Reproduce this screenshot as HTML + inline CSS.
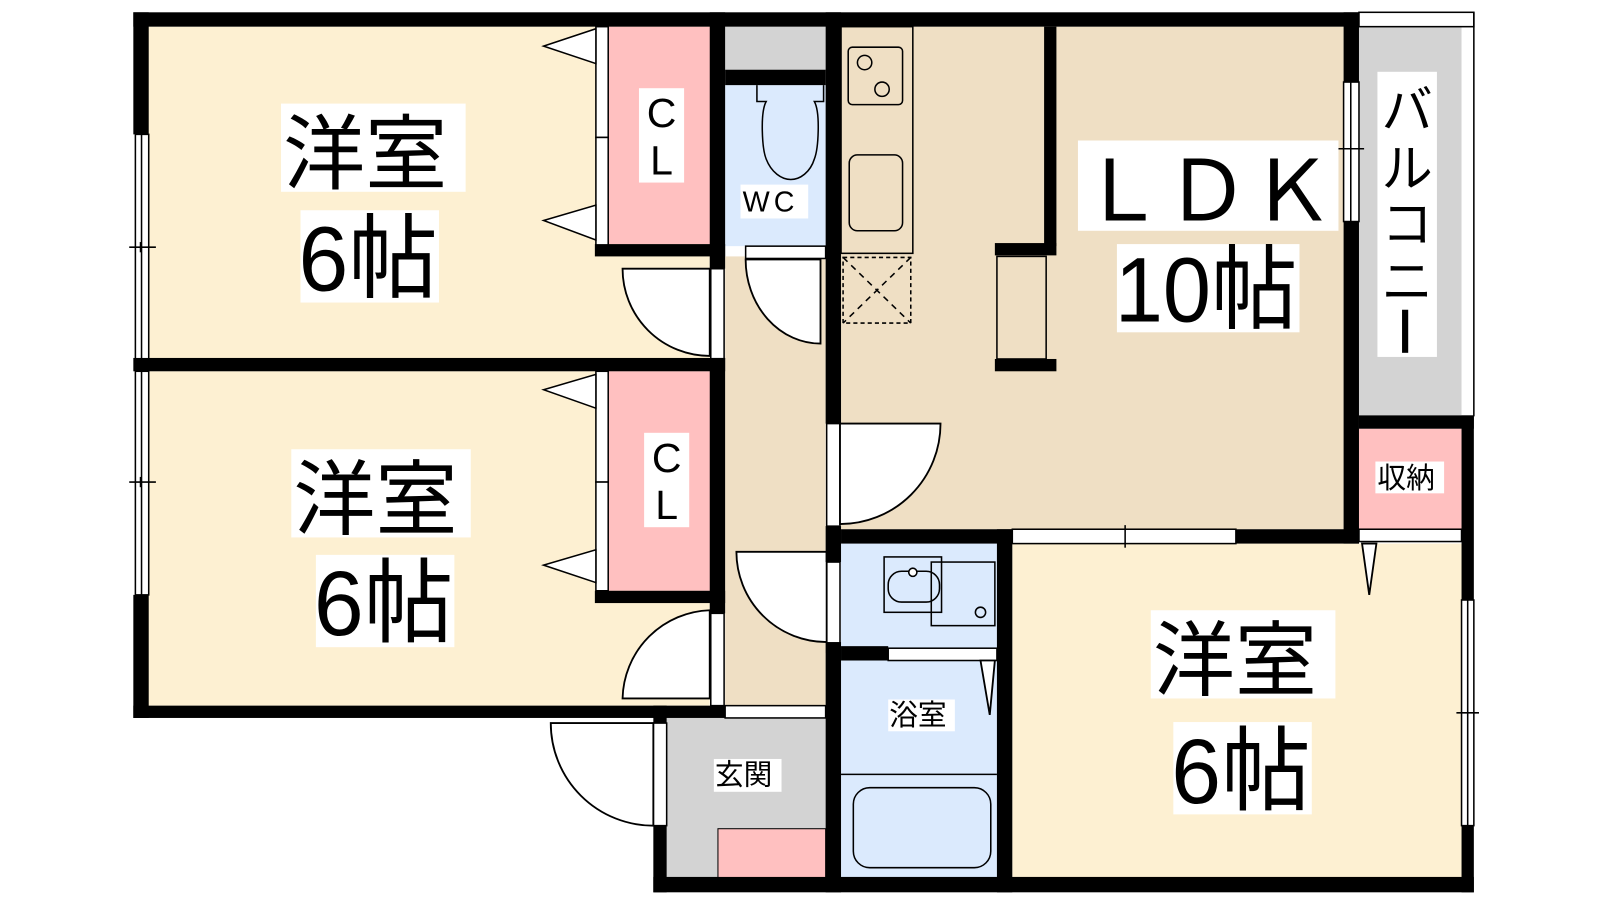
<!DOCTYPE html>
<html><head><meta charset="utf-8"><style>
html,body{margin:0;padding:0;background:#fff;}
svg{display:block}
text{font-family:"Liberation Sans","Noto Sans CJK JP",sans-serif;fill:#000}
</style></head><body>
<svg width="1600" height="900" viewBox="0 0 1560 877.5" preserveAspectRatio="none" xmlns="http://www.w3.org/2000/svg">
<!-- fills -->
<rect x="144" y="26" width="548" height="324" fill="#fdf0d2"/>
<rect x="144" y="362" width="548" height="326" fill="#fdf0d2"/>
<rect x="593" y="26" width="100" height="212" fill="#ffc0c0"/>
<rect x="593" y="362" width="100" height="214" fill="#ffc0c0"/>
<rect x="707" y="26" width="98" height="43" fill="#d3d3d3"/>
<rect x="707" y="83" width="98" height="157" fill="#dbeafd"/>
<rect x="707" y="250" width="98" height="438" fill="#efdfc4"/>
<rect x="820" y="26" width="490" height="490" fill="#efdfc4"/>
<rect x="1325" y="26" width="100" height="380" fill="#d3d3d3"/>
<rect x="1325" y="418" width="100" height="98" fill="#ffc0c0"/>
<rect x="987" y="530" width="438" height="326" fill="#fdf0d2"/>
<rect x="820" y="530" width="152" height="330" fill="#dbeafd"/>
<rect x="650" y="700" width="155" height="156" fill="#d3d3d3"/>
<rect x="700" y="808" width="105" height="48" fill="#ffc0c0" stroke="#000" stroke-width="1"/>
<!-- closet door strips -->
<g fill="#fff" stroke="#000" stroke-width="1.5">
<rect x="581" y="26" width="12" height="108"/><rect x="581" y="134" width="12" height="106"/>
<rect x="581" y="362" width="12" height="108"/><rect x="581" y="470" width="12" height="106"/>
<polygon points="530,45 581,28 581,62"/><polygon points="530,215 581,200 581,234"/>
<polygon points="530,380 581,365 581,398"/><polygon points="530,551 581,536 581,568"/>
<!-- left windows -->
<rect x="132" y="131" width="13" height="219"/><rect x="132" y="362" width="13" height="218"/>
<line x1="138" y1="131" x2="138" y2="580"/>
<!-- WC door strip -->
<rect x="727" y="240" width="78" height="12"/>
<!-- room door strips -->
<rect x="693" y="262" width="13" height="88"/><rect x="693" y="598" width="13" height="90"/>
<rect x="806" y="413" width="13" height="100"/><rect x="806" y="548" width="13" height="88"/>
<rect x="637" y="705" width="13" height="100"/>
<rect x="707" y="688" width="98" height="12"/>
<rect x="866" y="632" width="106" height="12"/>
<!-- LDK right window -->
<rect x="1310" y="80" width="15" height="136"/>
<line x1="1317" y1="80" x2="1317" y2="216"/>
<!-- balcony outer -->
<rect x="1325" y="12" width="112" height="14"/>
<line x1="1437" y1="12" x2="1437" y2="406"/>
<!-- ldk-bedroom window -->
<rect x="987" y="516" width="218" height="14"/>
<rect x="1325" y="516" width="100" height="12"/>
<!-- right window -->
<rect x="1425" y="585" width="12" height="220"/>
<line x1="1431" y1="585" x2="1431" y2="805"/>
</g>
<!-- window ticks -->
<g stroke="#000" stroke-width="1.5">
<line x1="126" y1="241" x2="152" y2="241"/><line x1="137" y1="236" x2="137" y2="246"/>
<line x1="126" y1="470" x2="152" y2="470"/><line x1="137" y1="465" x2="137" y2="475"/>
<line x1="1304" y1="145" x2="1330" y2="145"/>
<line x1="1097" y1="512" x2="1097" y2="534"/>
<line x1="1420" y1="695" x2="1442" y2="695"/>
</g>
<!-- door swings -->
<g fill="#fff" stroke="#000" stroke-width="1.8">
<path d="M692,262 L607,262 A85,85 0 0 0 692,347 Z"/>
<path d="M727,253 L800,253 L800,335 A73,82 0 0 1 727,253 Z"/>
<path d="M819,413 L917,413 A98,98 0 0 1 819,511 Z"/>
<path d="M806,538 L718,538 A88,88 0 0 0 806,626 Z"/>
<path d="M692,681 L607,681 A88,88 0 0 1 692,595 Z"/>
<path d="M637,805 A100,100 0 0 1 537,705 L637,705 Z"/>
<polygon points="1328,530 1342,530 1335,580"/>
<polygon points="956,644 970,644 965,697"/>
</g>
<!-- walls -->
<g fill="#000">
<rect x="130" y="12" width="1195" height="14"/>
<rect x="130" y="12" width="15" height="119"/>
<rect x="130" y="580" width="15" height="120"/>
<rect x="130" y="349" width="577" height="13"/>
<rect x="130" y="688" width="577" height="12"/>
<rect x="580" y="238" width="127" height="12"/>
<rect x="580" y="576" width="127" height="12"/>
<rect x="692" y="12" width="15" height="250"/>
<rect x="692" y="349" width="15" height="249"/>
<rect x="707" y="68" width="98" height="15"/>
<rect x="805" y="12" width="15" height="401"/>
<rect x="805" y="513" width="15" height="35"/>
<rect x="805" y="626" width="15" height="244"/>
<rect x="820" y="516" width="167" height="14"/>
<rect x="972" y="516" width="15" height="354"/>
<rect x="1205" y="516" width="120" height="14"/>
<rect x="1018" y="26" width="12" height="214"/>
<rect x="970" y="237" width="60" height="12"/>
<rect x="970" y="350" width="60" height="12"/>
<rect x="1310" y="12" width="15" height="68"/>
<rect x="1310" y="216" width="15" height="314"/>
<rect x="1325" y="405" width="112" height="13"/>
<rect x="1425" y="405" width="12" height="180"/>
<rect x="1425" y="805" width="12" height="65"/>
<rect x="820" y="630" width="46" height="14"/>
<rect x="637" y="855" width="800" height="15"/>
<rect x="637" y="688" width="13" height="17"/>
<rect x="637" y="805" width="13" height="65"/>
</g>
<!-- fixtures -->
<g fill="none" stroke="#000" stroke-width="1.5">
<rect x="820" y="26" width="70" height="221"/>
<rect x="827" y="46" width="53" height="56" rx="4"/>
<circle cx="843" cy="61" r="7"/><circle cx="860" cy="87" r="7"/>
<rect x="828" y="151" width="52" height="74" rx="8"/>
<rect x="822" y="251" width="66" height="64" stroke-dasharray="4,3"/>
<line x1="822" y1="251" x2="888" y2="315" stroke-dasharray="6,5"/>
<line x1="888" y1="251" x2="822" y2="315" stroke-dasharray="6,5"/>
<rect x="972" y="250" width="48" height="100"/>
<path d="M738,83 L738,99 L747,99 C741,110 743,145 747,155 C752,168 762,175 771,175 C780,175 790,168 794,155 C798,145 800,110 794,99 L803,99 L803,83"/>
<rect x="862" y="543" width="56" height="54"/>
<rect x="866" y="557" width="50" height="30" rx="13"/>
<circle cx="890" cy="558" r="4" fill="#fff"/>
<rect x="926" y="548" width="62" height="62" transform="translate(-18 0)"/>
<circle cx="956" cy="597" r="5"/>
<line x1="820" y1="755" x2="972" y2="755"/>
<rect x="832" y="768" width="134" height="78" rx="16"/>
</g>
<!-- labels -->
<g fill="#fff">
<rect x="274" y="101" width="180" height="86"/>
<rect x="293" y="205" width="135" height="90"/>
<rect x="284" y="438" width="175" height="86"/>
<rect x="308" y="541" width="135" height="90"/>
<rect x="1122" y="595" width="180" height="86"/>
<rect x="1144" y="704" width="135" height="90"/>
<rect x="1051" y="137" width="254" height="88"/>
<rect x="1089" y="238" width="178" height="86"/>
<rect x="623" y="86" width="44" height="92"/>
<rect x="628" y="422" width="44" height="92"/>
<rect x="1343" y="70" width="58" height="278"/>
<rect x="1341" y="450" width="67" height="31"/>
<rect x="722" y="180" width="66" height="33"/>
<rect x="866" y="682" width="65" height="31"/>
<rect x="696" y="740" width="66" height="32"/>
</g>
<g font-size="80">
<text x="276" y="178">洋室</text>
<text x="286" y="515">洋室</text>
<text x="1124" y="672">洋室</text>
</g>
<g font-size="80" transform="scale(1 1.12)">
<text x="291" y="253" textLength="136" lengthAdjust="spacingAndGlyphs">6帖</text>
<text x="306" y="553" textLength="136" lengthAdjust="spacingAndGlyphs">6帖</text>
<text x="1142" y="699" textLength="136" lengthAdjust="spacingAndGlyphs">6帖</text>
<text x="1087" y="280" textLength="178" lengthAdjust="spacingAndGlyphs">10帖</text>
</g>
<text x="1053" y="215" font-size="82" textLength="248" lengthAdjust="spacingAndGlyphs">ＬＤＫ</text>
<g font-size="40" text-anchor="middle">
<text x="645" y="124">C</text><text x="645" y="170">L</text>
<text x="650" y="460">C</text><text x="650" y="506">L</text>
</g>
<g font-size="50" text-anchor="middle">
<text x="1372" y="125">バ</text>
<text x="1372" y="182">ル</text>
<text x="1372" y="236">コ</text>
<text x="1372" y="292">ニ</text>
</g>
<rect x="1367" y="302" width="6" height="42" fill="#000"/>
<text x="1343" y="476" font-size="28">収納</text>
<text x="724" y="206" font-size="28" letter-spacing="4">WC</text>
<text x="867" y="707" font-size="28">浴室</text>
<text x="697" y="765" font-size="28">玄関</text>
</svg>
</body></html>
